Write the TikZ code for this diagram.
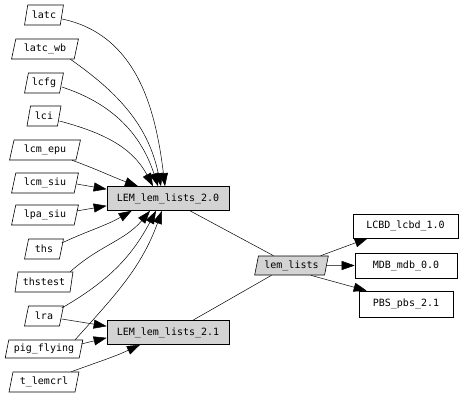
\documentclass[tikz,border=0pt]{standalone}
\usepackage{fontspec}
\newfontfamily\gvfont{DejaVu Sans Mono}
\usetikzlibrary{shapes.geometric,arrows.meta}
\definecolor{gvgray}{HTML}{D3D3D3}
\begin{document}
\begin{tikzpicture}[x=1pt,y=1pt,
  every node/.style={font=\gvfont\fontsize{10}{12}\selectfont, inner sep=0pt},
  para/.style={draw, line width=0.6pt, trapezium, trapezium left angle=73, trapezium right angle=107,
    trapezium stretches=true, minimum height=20pt},
  grpara/.style={para, fill=gvgray},
  box/.style={draw, line width=0.6pt, rectangle, minimum height=24pt},
  grbox/.style={box, fill=gvgray},
  edge/.style={line width=0.5pt, -{Triangle[length=13pt,width=9pt]}},
  plain/.style={line width=0.5pt}]
\useasboundingbox (0,0) rectangle (464,-396);
% source nodes
\node[para, minimum width=39pt] (latc) at (44,-15) {latc};
\node[para, minimum width=67pt] (latcwb) at (45,-49) {latc\_wb};
\node[para, minimum width=39pt] (lcfg) at (44,-83) {lcfg};
\node[para, minimum width=34pt] (lci) at (44,-116) {lci};
\node[para, minimum width=71pt] (lcmepu) at (45,-150) {lcm\_epu};
\node[para, minimum width=67pt] (lcmsiu) at (45,-183) {lcm\_siu};
\node[para, minimum width=67pt] (lpasiu) at (45,-215) {lpa\_siu};
\node[para, minimum width=39pt] (ths) at (44,-249) {ths};
\node[para, minimum width=58pt] (thstest) at (44,-282) {thstest};
\node[para, minimum width=39pt] (lra) at (44,-316) {lra};
\node[para, minimum width=78pt, minimum height=18pt] (pig) at (44,-349) {pig\_flying};
\node[para, minimum width=70pt] (tlem) at (44,-382) {t\_lemcrl};
% central boxes
\node[grbox, minimum width=122pt] (lem20) at (168,-198.5) {LEM\_lem\_lists\_2.0};
\node[grbox, minimum width=122pt] (lem21) at (168,-332.5) {LEM\_lem\_lists\_2.1};
\node[grpara, minimum width=74pt, minimum height=19pt] (lemlists) at (291.5,-265.5) {lem\_lists};
% right boxes
\node[box, minimum width=105pt] (lcbd) at (405.5,-226) {LCBD\_lcbd\_1.0};
\node[box, minimum width=102pt, minimum height=25pt] (mdb) at (406,-265.5) {MDB\_mdb\_0.0};
\node[box, minimum width=94pt, minimum height=26pt] (pbs) at (406,-304) {PBS\_pbs\_2.1};
% edges into LEM 2.0
\draw[edge] ([yshift=-4pt]latc.east) to[out=-12,in=97] ([xshift=-3pt]lem20.north);
\draw[edge] ([xshift=-4pt]latcwb.bottom right corner) to[out=-35,in=102] ([xshift=-7pt]lem20.north);
\draw[edge] ([yshift=-4pt]lcfg.east) to[out=-18,in=108] ([xshift=-10pt]lem20.north);
\draw[edge] ([yshift=-5pt]lci.east) to[out=-15,in=118] ([xshift=-15pt]lem20.north);
\draw[edge] ([xshift=-4pt]lcmepu.bottom right corner) to[out=-20,in=160] ([xshift=-30pt]lem20.north);
\draw[edge] ([yshift=-1pt]lcmsiu.east) -- ([yshift=-3pt]lem20.north west);
\draw[edge] ([yshift=4pt]lpasiu.east) -- ([yshift=5pt]lem20.south west);
\draw[edge] ([yshift=6pt]ths.east) to[out=25,in=-150] ([xshift=25pt]lem20.south west);
\draw[edge] ([xshift=-3pt]thstest.top right corner) to[out=42,in=-130] ([xshift=-18pt]lem20.south);
\draw[edge] ([yshift=8pt]lra.east) to[out=30,in=-118] ([xshift=-12pt]lem20.south);
\draw[edge] ([xshift=-8pt]pig.top right corner) to[out=48,in=-110] ([xshift=-6pt]lem20.south);
% edges into LEM 2.1
\draw[edge] ([yshift=-3pt]lra.east) -- ([yshift=-6pt]lem21.north west);
\draw[edge] ([yshift=5pt]pig.east) -- ([yshift=7pt]lem21.south west);
\draw[edge] ([xshift=-8pt]tlem.top right corner) to[out=20,in=-155] ([xshift=-28pt]lem21.south);
% to lem_lists
\draw[plain] ([xshift=22pt]lem20.south) -- ([xshift=-18pt]lemlists.north);
\draw[plain] ([xshift=25pt]lem21.north) -- ([xshift=-20pt]lemlists.south);
% from lem_lists
\draw[edge] ([xshift=-8pt]lemlists.top right corner) -- ([xshift=15pt]lcbd.south west);
\draw[edge] (lemlists.east) -- (mdb.west);
\draw[edge] ([xshift=-14pt]lemlists.bottom right corner) -- ([xshift=8pt]pbs.north west);
\end{tikzpicture}
\end{document}
